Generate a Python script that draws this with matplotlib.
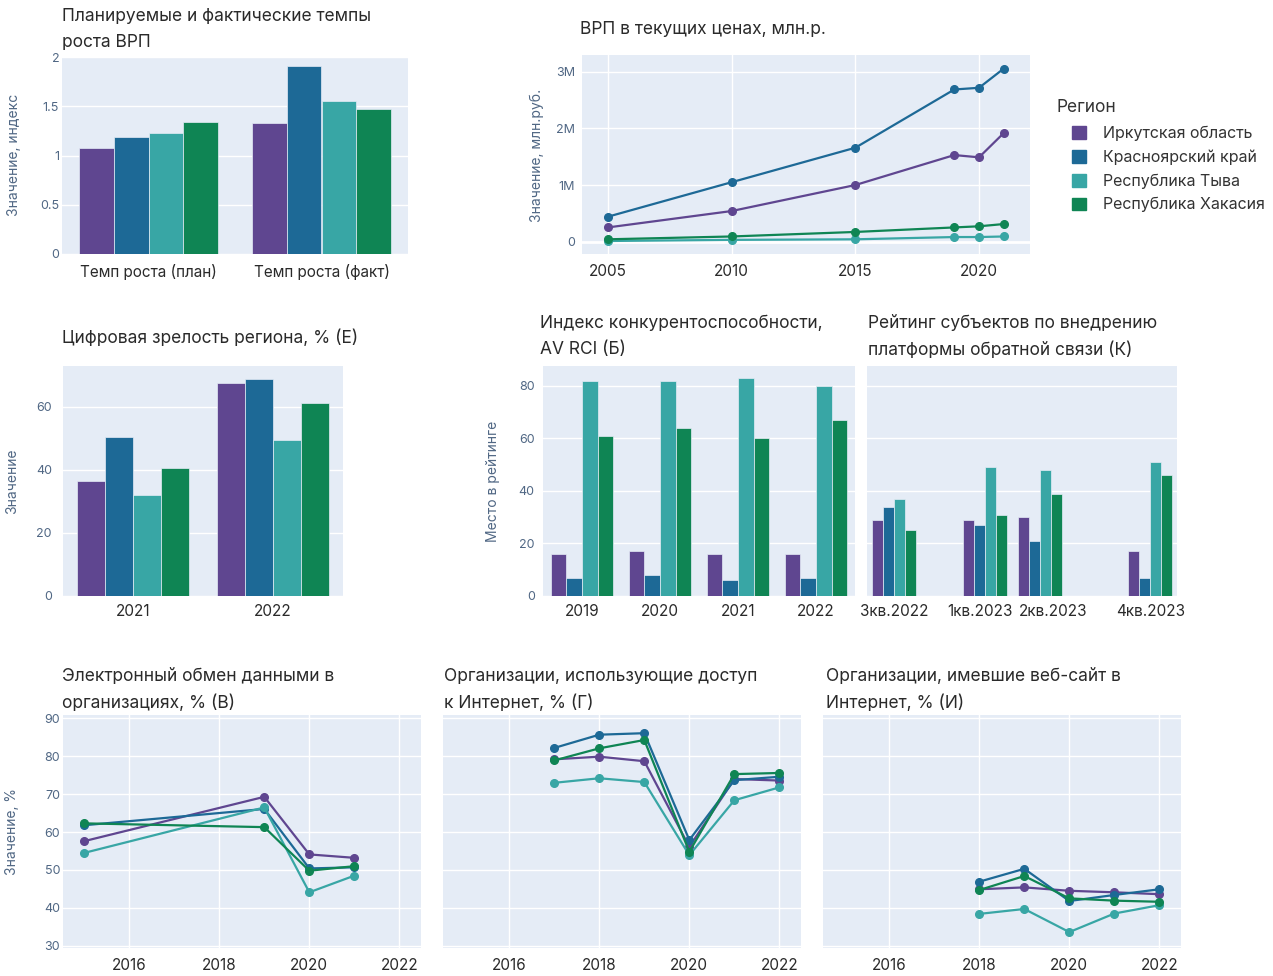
import numpy as np
import matplotlib.pyplot as plt
from matplotlib.patches import Patch

W, H = 1273, 976
BG = '#E5ECF6'
TXT = '#2a2a2a'
TICK = '#506784'

plt.rcParams['font.family'] = ['Inter', 'DejaVu Sans']

regions = ['Иркутская область', 'Красноярский край', 'Республика Тыва', 'Республика Хакасия']
colors = ['#5F4690', '#1D6996', '#38A6A5', '#0F8554']

# темпы роста ВРП (план, факт) по регионам
growth_cats = ['Темп роста (план)', 'Темп роста (факт)']
growth_vals = [[1.08, 1.33], [1.19, 1.91], [1.23, 1.55], [1.34, 1.47]]

# ВРП в текущих ценах
grp_years = [2005, 2010, 2015, 2019, 2020, 2021]
grp_vals = [
    [250000, 540000, 1000000, 1530000, 1490000, 1920000],
    [440000, 1050000, 1660000, 2690000, 2720000, 3060000],
    [10000, 30000, 40000, 80000, 80000, 90000],
    [40000, 90000, 170000, 250000, 270000, 310000],
]

# цифровая зрелость
dig_years = ['2021', '2022']
dig_vals = [[36.4, 67.6], [50.5, 68.9], [32.0, 49.3], [40.5, 61.2]]

# индекс конкурентоспособности
rci_years = ['2019', '2020', '2021', '2022']
rci_vals = [[16, 17, 16, 16], [7, 8, 6, 7], [82, 82, 83, 80], [61, 64, 60, 67]]

# платформа обратной связи (позиция по месяцам от авг.2022)
pos_month = [0, 5, 8, 14]
pos_ticks = [0, 4.7, 8.7, 14]
pos_labels = ['3кв.2022', '1кв.2023', '2кв.2023', '4кв.2023']
pos_vals = [[29, 29, 30, 17], [34, 27, 21, 7], [37, 49, 48, 51], [25, 31, 39, 46]]

# электронный обмен данными
edo_years = [2015, 2019, 2020, 2021]
edo_vals = [
    [57.6, 69.3, 54.1, 53.2],
    [61.8, 66.1, 50.4, 50.7],
    [54.5, 66.5, 44.1, 48.5],
    [62.3, 61.3, 49.8, 51.0],
]

# доступ к Интернет
inet_years = [2017, 2018, 2019, 2020, 2021, 2022]
inet_vals = [
    [79.2, 79.9, 78.7, 56.1, 74.0, 73.6],
    [82.2, 85.7, 86.1, 57.9, 73.7, 74.6],
    [73.0, 74.2, 73.2, 53.9, 68.4, 71.8],
    [78.9, 82.1, 84.3, 54.8, 75.3, 75.6],
]

# веб-сайт
web_years = [2018, 2019, 2020, 2021, 2022]
web_vals = [
    [44.9, 45.4, 44.5, 44.1, 43.6],
    [46.9, 50.3, 41.8, 43.4, 44.9],
    [38.4, 39.7, 33.6, 38.5, 40.7],
    [44.7, 48.4, 42.5, 41.9, 41.6],
]

fig = plt.figure(figsize=(W / 100, H / 100), dpi=100)


def px_axes(l, t, r, b, xgrid=False):
    ax = fig.add_axes([l / W, 1 - b / H, (r - l) / W, (b - t) / H])
    ax.set_facecolor(BG)
    for s in ax.spines.values():
        s.set_visible(False)
    ax.tick_params(length=0)
    ax.tick_params(axis='x', labelsize=11, labelcolor=TXT)
    ax.tick_params(axis='y', labelsize=9, labelcolor=TICK)
    ax.grid(axis='y', color='white', lw=1)
    if xgrid:
        ax.grid(axis='x', color='white', lw=1)
    ax.set_axisbelow(True)
    return ax


def grouped_bars(ax, xpos, vals, width):
    xpos = np.asarray(xpos, dtype=float)
    for i, (v, c) in enumerate(zip(vals, colors)):
        ax.bar(xpos + (i - 1.5) * width, v, width=width, color=c,
               edgecolor=BG, linewidth=0.5)


def lines(ax, xs, vals):
    for v, c in zip(vals, colors):
        ax.plot(xs, v, color=c, lw=1.6, marker='o', ms=5.5)


def title(x, y, s):
    fig.text(x / W, 1 - y / H, s, fontsize=12.5, color=TXT, va='top', ha='left',
             linespacing=1.68)


def ylabel(x, y, s):
    fig.text(x / W, 1 - y / H, s, fontsize=10, color=TICK, rotation=90,
             va='center', ha='center')


# 1. темпы роста
ax1 = px_axes(62, 57, 408, 254)
grouped_bars(ax1, np.arange(2), growth_vals, 0.2)
ax1.set_xlim(-0.5, 1.5)
ax1.set_ylim(0, 2)
ax1.set_xticks(np.arange(2), growth_cats)
ax1.set_yticks([0, 0.5, 1, 1.5, 2], ['0', '0.5', '1', '1.5', '2'])
ax1.tick_params(axis='x', pad=7)
ax1.tick_params(axis='y', pad=2)
title(62, 8, 'Планируемые и фактические темпы\nроста ВРП')
ylabel(14, 155, 'Значение, индекс')

# 2. ВРП
ax2 = px_axes(582, 55, 1030, 254, xgrid=True)
lines(ax2, grp_years, grp_vals)
ax2.axhline(0, color='white', lw=2, zorder=0.5)
ax2.set_xlim(2003.95, 2022.06)
ax2.set_ylim(-0.22e6, 3.3e6)
ax2.set_xticks([2005, 2010, 2015, 2020])
ax2.set_yticks([0, 1e6, 2e6, 3e6], ['0', '1M', '2M', '3M'])
ax2.tick_params(axis='x', pad=7)
ax2.tick_params(axis='y', pad=5)
title(580, 21, 'ВРП в текущих ценах, млн.р.')
ylabel(537, 155, 'Значение, млн.руб.')

fig.text(1057 / W, 1 - 107 / H, 'Регион', fontsize=12.5, color='#333333',
         va='center', ha='left')
handles = [Patch(facecolor=c, edgecolor=c) for c in colors]
leg = fig.legend(handles, regions, loc='upper left',
                 bbox_to_anchor=(1072 / W, 1 - 126 / H), frameon=False,
                 fontsize=11.5, handlelength=0.85, handleheight=0.85,
                 labelspacing=0.52, handletextpad=1.1, borderpad=0,
                 borderaxespad=0)
for t in leg.get_texts():
    t.set_color('#333333')

# 3. цифровая зрелость
ax3 = px_axes(63, 366, 343, 596)
grouped_bars(ax3, np.arange(2), dig_vals, 0.2)
ax3.set_xlim(-0.5, 1.5)
ax3.set_ylim(0, 72.9)
ax3.set_xticks(np.arange(2), dig_years)
ax3.set_yticks([0, 20, 40, 60])
ax3.tick_params(axis='x', pad=6)
ax3.tick_params(axis='y', pad=8)
title(62, 329, 'Цифровая зрелость региона, % (E)')
ylabel(12, 481, 'Значение')

# 4. индекс конкурентоспособности
ax4 = px_axes(543, 366, 855, 596)
grouped_bars(ax4, np.arange(4), rci_vals, 0.2)
ax4.set_xlim(-0.5, 3.5)
ax4.set_ylim(0, 87.6)
ax4.set_xticks(np.arange(4), rci_years)
ax4.set_yticks([0, 20, 40, 60, 80])
ax4.tick_params(axis='x', pad=6)
ax4.tick_params(axis='y', pad=6)
title(540, 315, 'Индекс конкурентоспособности,\nAV RCI (Б)')
ylabel(493, 481, 'Место в рейтинге')

# 5. платформа обратной связи
ax5 = px_axes(867, 366, 1177, 596)
grouped_bars(ax5, pos_month, pos_vals, 0.6)
ax5.set_xlim(-1.47, 15.46)
ax5.set_ylim(0, 87.6)
ax5.set_xticks(pos_ticks, pos_labels)
ax5.set_yticks([0, 20, 40, 60, 80], [])
ax5.tick_params(axis='x', pad=6)
title(868, 315, 'Рейтинг субъектов по внедрению\nплатформы обратной связи (К)')

# 6-8. нижний ряд
bottom = [
    (63, 421, edo_years, edo_vals, 'Электронный обмен данными в\nорганизациях, % (В)', 62),
    (443, 801, inet_years, inet_vals, 'Организации, использующие доступ\nк Интернет, % (Г)', 444),
    (823, 1181, web_years, web_vals, 'Организации, имевшие веб-сайт в\nИнтернет, % (И)', 826),
]
for k, (l, r, xs, vals, ttl, tx) in enumerate(bottom):
    ax = px_axes(l, 715, r, 948, xgrid=True)
    lines(ax, xs, vals)
    ax.set_xlim(2014.53, 2022.48)
    ax.set_ylim(29.4, 90.9)
    ax.set_xticks([2016, 2018, 2020, 2022])
    if k == 0:
        ax.set_yticks([30, 40, 50, 60, 70, 80, 90])
    else:
        ax.set_yticks([30, 40, 50, 60, 70, 80, 90], [])
    ax.tick_params(axis='x', pad=7)
    ax.tick_params(axis='y', pad=2)
    title(tx, 668, ttl)

ylabel(12, 832, 'Значение, %')

fig.savefig('out.png', dpi=100, facecolor='white')
